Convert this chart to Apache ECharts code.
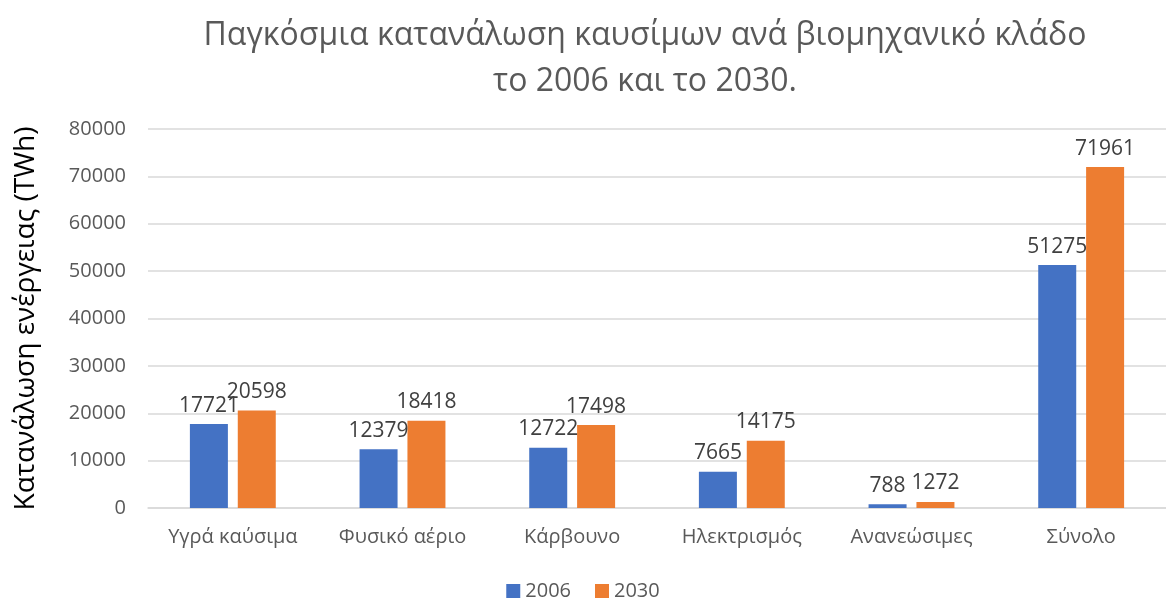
<!DOCTYPE html>
<html><head><meta charset="utf-8">
<script src="https://cdn.jsdelivr.net/npm/echarts@6/dist/echarts.min.js"></script>
<style>html,body{margin:0;padding:0;background:#fff}#c{width:1166px;height:603px}</style>
</head><body><div id="c"></div>
<script>
const categories = ['Υγρά καύσιμα','Φυσικό αέριο','Κάρβουνο','Ηλεκτρισμός','Ανανεώσιμες','Σύνολο'];
const s2006 = [17721, 12379, 12722, 7665, 788, 51275];
const s2030 = [20598, 18418, 17498, 14175, 1272, 71961];
const yTicks = [0, 10000, 20000, 30000, 40000, 50000, 60000, 70000, 80000];
const font = '"Open Sans", "Noto Sans", sans-serif';
const chart = echarts.init(document.getElementById('c'));
chart.setOption({
  animation: false,
  textStyle: {fontFamily: font},
  title: {
    text: 'Παγκόσμια κατανάλωση καυσίμων ανά βιομηχανικό κλάδο\nτο 2006 και το 2030.',
    left: 640, top: 8, textAlign: 'center',
    textStyle: {fontFamily: font, fontSize: 32, fontWeight: 'normal', color: '#595959', lineHeight: 46}
  },
  legend: {
    data: ['2006','2030'], top: 576, left: 'center',
    itemWidth: 14, itemHeight: 14, itemGap: 24, icon: 'rect',
    textStyle: {fontFamily: font, fontSize: 20, color: '#595959'}
  },
  grid: {left: 148, right: -8, top: 129, bottom: 95},
  xAxis: {
    type: 'category', data: categories,
    axisLine: {lineStyle: {color: '#d9d9d9', width: 1.5}},
    axisTick: {show: false},
    axisLabel: {interval: 0, fontFamily: font, fontSize: 20, color: '#595959', margin: 19}
  },
  yAxis: {
    type: 'value', min: yTicks[0], max: yTicks[yTicks.length-1], interval: 10000,
    name: 'Κατανάλωση ενέργειας (TWh)', nameLocation: 'middle', nameGap: 108,
    nameTextStyle: {fontFamily: font, fontSize: 28, color: '#000'},
    axisLine: {show: false}, axisTick: {show: false},
    axisLabel: {fontFamily: font, fontSize: 20, color: '#595959', margin: 22,
      formatter: v => String(v)},
    splitLine: {lineStyle: {color: '#d9d9d9', width: 1.5}}
  },
  series: [
    {name: '2006', type: 'bar', data: s2006, barWidth: 38, barGap: '26%',
     itemStyle: {color: '#4472c4'},
     label: {show: true, position: 'top', distance: 8, fontFamily: font, fontSize: 21, color: '#404040'}},
    {name: '2030', type: 'bar', data: s2030, barWidth: 38,
     itemStyle: {color: '#ed7d31'},
     label: {show: true, position: 'top', distance: 8, fontFamily: font, fontSize: 21, color: '#404040'}}
  ]
});
</script></body></html>
